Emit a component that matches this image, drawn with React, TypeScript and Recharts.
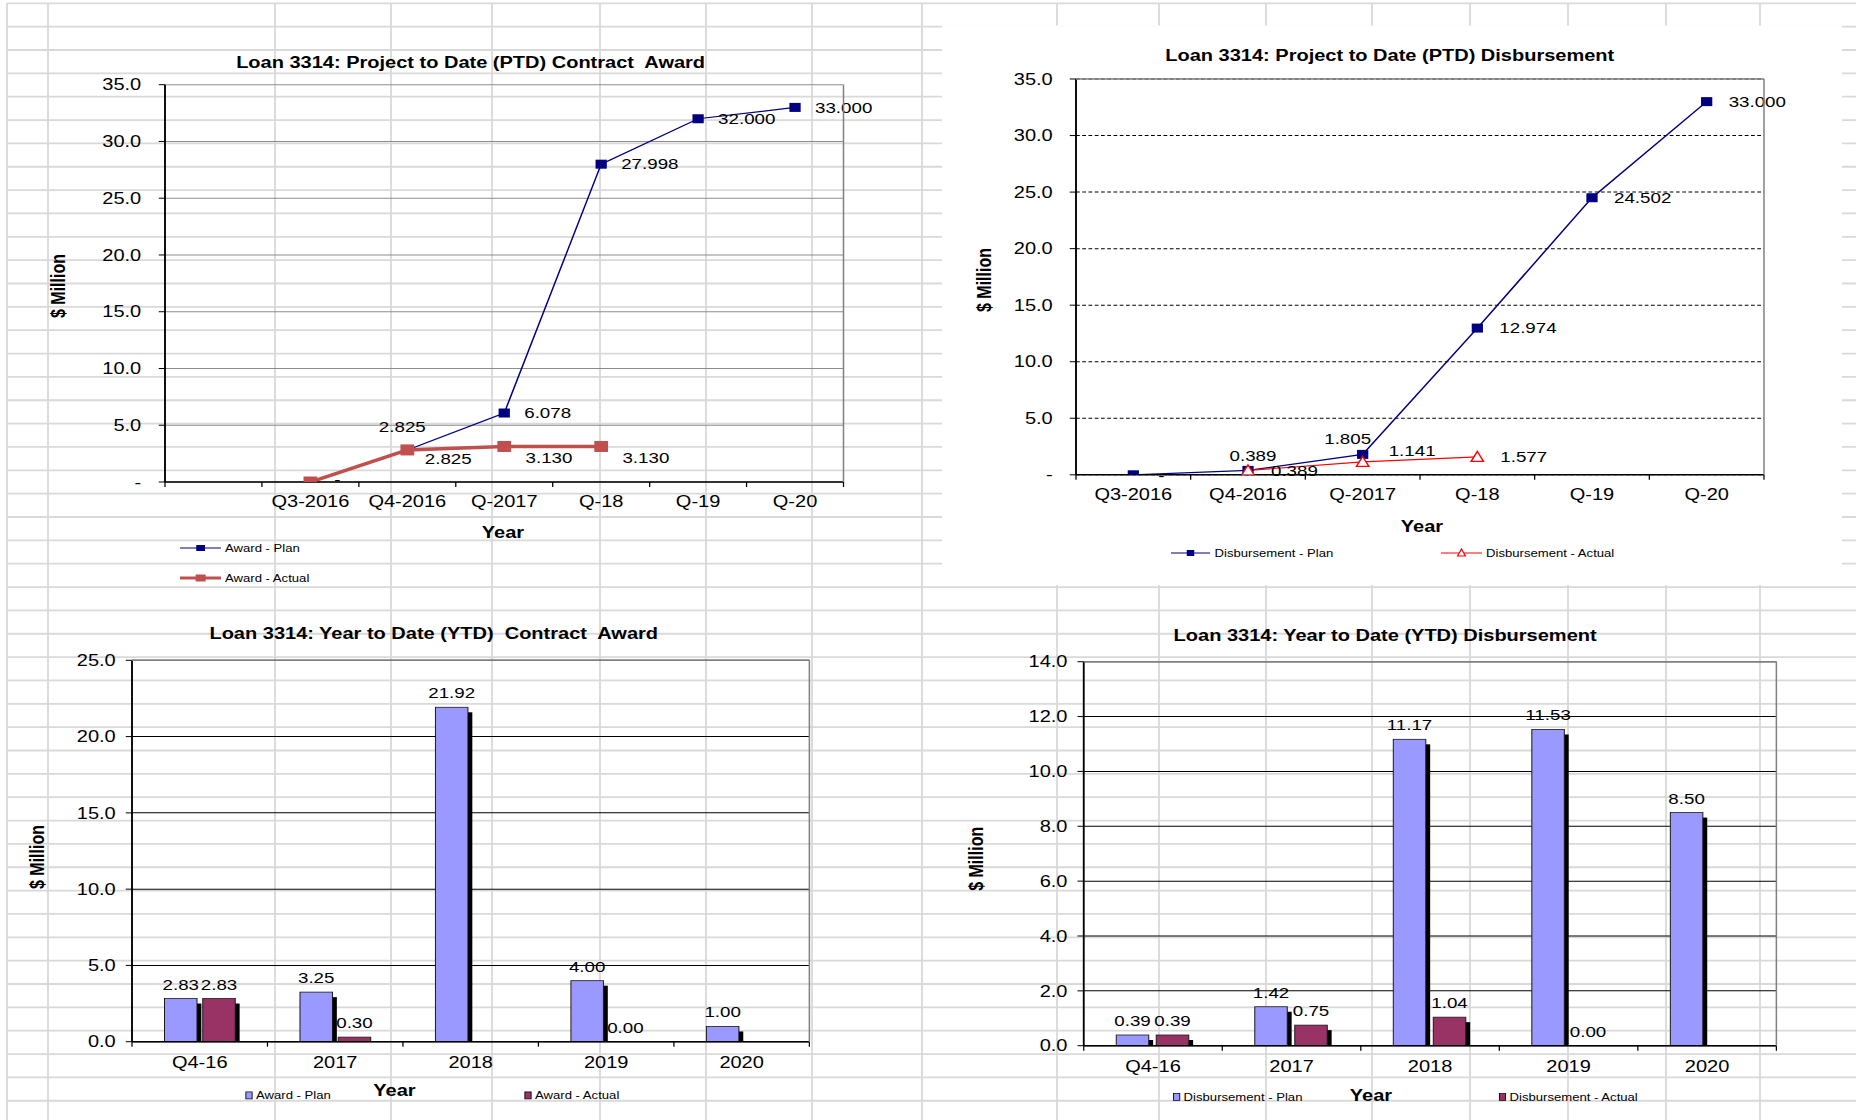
import React from "react";
import {
  LineChart,
  Line,
  BarChart,
  Bar,
  XAxis,
  YAxis,
  CartesianGrid,
  LabelList,
} from "recharts";

// ---- data ----
const ptdAwardCats = ["", "Q3-2016", "Q4-2016", "Q-2017", "Q-18", "Q-19", "Q-20"];
const ptdAwardPlan = [null, null, 2.825, 6.078, 27.998, 32.0, 33.0];
const ptdAwardActual = [null, 0, 2.825, 3.13, 3.13, null, null];

const ptdDisbCats = ["Q3-2016", "Q4-2016", "Q-2017", "Q-18", "Q-19", "Q-20"];
const ptdDisbPlan = [0, 0.389, 1.805, 12.974, 24.502, 33.0];
const ptdDisbActual = [null, 0.389, 1.141, 1.577, null, null];

const ytdCats = ["Q4-16", "2017", "2018", "2019", "2020"];
const ytdAwardPlan = [2.83, 3.25, 21.92, 4.0, 1.0];
const ytdAwardActual = [2.83, 0.3, null, 0.0, null];
const ytdDisbPlan = [0.39, 1.42, 11.17, 11.53, 8.5];
const ytdDisbActual = [0.39, 0.75, 1.04, 0.0, null];

const ptdTicks = [0, 5, 10, 15, 20, 25, 30, 35];
const ytdAwardTicks = [0, 5, 10, 15, 20, 25];
const ytdDisbTicks = [0, 2, 4, 6, 8, 10, 12, 14];

// ---- look ----
const SX = 1.25; // the source picture is stretched sideways
const FONT = '"Liberation Sans", Arial, Helvetica, sans-serif';
const NAVY = "#000080";
const BRICK = "#C0504D";
const LILAC = "#9999FF";
const PLUM = "#993366";
const BORDER = "#808080";
const Y_W = 60;
const X_H = 30;

const sheetCols = [7, 48, 275, 391, 492, 600, 706, 812, 922, 1057, 1159, 1266, 1372, 1470, 1568, 1666, 1760];

type Frame = {
  left: number;
  top: number;
  w: number;
  h: number;
  plotL: number;
  plotR: number;
  plotT: number;
  plotB: number;
};

// box position on page, plot edges in box coords (before stretch)
const F1: Frame = { left: 0, top: 0, w: 744, h: 590, plotL: 132, plotR: 674.8, plotT: 84.7, plotB: 482 };
const F2: Frame = { left: 940, top: 0, w: 732.8, h: 590, plotL: 108.8, plotR: 659.2, plotT: 79, plotB: 474.8 };
const F3: Frame = { left: 0, top: 590, w: 744, h: 530, plotL: 105.6, plotR: 647.5, plotT: 70.3, plotB: 451.7 };
const F4: Frame = { left: 940, top: 590, w: 732.8, h: 530, plotL: 115, plotR: 669.1, plotT: 71.7, plotB: 455.7 };

const marginOf = (f: Frame) => ({
  top: f.plotT,
  left: f.plotL - Y_W,
  right: f.w - f.plotR,
  bottom: f.h - f.plotB - X_H,
});

const dashZero = (v: number) => (v === 0 ? "-" : v.toFixed(1));
const oneDec = (v: number) => v.toFixed(1);

const makeXTick = (band: number, count: number, drop: number) => (props: any) => {
  const { x, y, payload, index } = props;
  const axisY = y - drop;
  const half = band / 2;
  return (
    <g>
      <line x1={x - half} x2={x - half} y1={axisY} y2={axisY + 5} stroke="#000" strokeWidth={1} />
      {index === count - 1 && (
        <line x1={x + half} x2={x + half} y1={axisY} y2={axisY + 5} stroke="#000" strokeWidth={1} />
      )}
      <text x={x} y={y} dy="0.71em" textAnchor="middle" fontSize={16} fill="#000">
        {payload.value}
      </text>
    </g>
  );
};

type Place = { dx: number; dy: number; anchor?: "start" | "middle" | "end" };

const lineLabel = (values: (number | null)[], base: Place, special: Record<number, Place>) => (props: any) => {
  const { x, y, value } = props;
  if (value == null || x == null || y == null) return null;
  const i = typeof props.index === "number" ? props.index : values.indexOf(value);
  const p = special[i] ?? base;
  return (
    <text x={x + p.dx} y={y + p.dy} dy="0.35em" textAnchor={p.anchor ?? "start"} fontSize={15} fill="#000">
      {value === 0 ? "-" : Number(value).toFixed(3)}
    </text>
  );
};

const squareDot = (color: string, size: number) => (props: any) => {
  const { cx, cy, index, value } = props;
  if (cx == null || cy == null || value == null) return <g key={`sq-${index}`} />;
  return <rect key={`sq-${index}`} x={cx - size / 2} y={cy - size / 2} width={size} height={size} fill={color} />;
};

const triangleDot = (props: any) => {
  const { cx, cy, index, value } = props;
  if (cx == null || cy == null || value == null) return <g key={`tr-${index}`} />;
  return (
    <path
      key={`tr-${index}`}
      d={`M${cx},${cy - 5.5} L${cx + 5},${cy + 4.5} L${cx - 5},${cy + 4.5} Z`}
      fill="#fff"
      stroke="#FF0000"
      strokeWidth={1.2}
    />
  );
};

const shadowBar = (props: any) => {
  const { x, y, width, height, fill } = props;
  if (!height || height < 0.5) return <g />;
  const dx = 3.5;
  const dy = 5;
  return (
    <g>
      <rect x={x + dx} y={y + dy} width={width} height={Math.max(0, height - dy)} fill="#000" />
      <rect x={x} y={y} width={width} height={height} fill={fill} stroke="#1a1a1a" strokeWidth={0.8} />
    </g>
  );
};

const barLabel = (props: any) => {
  const { x, y, width, value } = props;
  if (value == null) return null;
  return (
    <text x={x + width / 2} y={y - 9} textAnchor="middle" fontSize={15} fill="#000">
      {Number(value).toFixed(2)}
    </text>
  );
};

const Box = ({ f, children }: { f: Frame; children: React.ReactNode }) => (
  <div
    style={{
      position: "absolute",
      left: f.left,
      top: f.top,
      width: f.w,
      height: f.h,
      transform: `scaleX(${SX})`,
      transformOrigin: "0 0",
    }}
  >
    {children}
  </div>
);

const Overlay = ({
  f,
  title,
  titleAt,
  yearAt,
  yLabelAt,
  topBorder,
  children,
}: {
  f: Frame;
  title: string;
  titleAt: [number, number];
  yearAt: [number, number];
  yLabelAt: [number, number];
  topBorder: boolean;
  children?: React.ReactNode;
}) => (
  <svg
    width={f.w}
    height={f.h}
    style={{ position: "absolute", left: 0, top: 0, overflow: "visible", pointerEvents: "none" }}
  >
    <text
      x={titleAt[0]}
      y={titleAt[1]}
      dy="0.35em"
      textAnchor="middle"
      fontSize={16}
      fontWeight={700}
      fill="#000"
      style={{ whiteSpace: "pre" }}
    >
      {title}
    </text>
    <text x={yearAt[0]} y={yearAt[1]} dy="0.35em" textAnchor="middle" fontSize={16} fontWeight={700} fill="#000">
      Year
    </text>
    <text
      x={yLabelAt[0]}
      y={yLabelAt[1]}
      dy="0.35em"
      textAnchor="middle"
      fontSize={16}
      fontWeight={700}
      fill="#000"
      transform={`rotate(-90 ${yLabelAt[0]} ${yLabelAt[1]})`}
    >
      $ Million
    </text>
    {topBorder && (
      <line x1={f.plotL} x2={f.plotR} y1={f.plotT} y2={f.plotT} stroke={BORDER} strokeWidth={1.5} />
    )}
    <line x1={f.plotR} x2={f.plotR} y1={f.plotT} y2={f.plotB} stroke={BORDER} strokeWidth={1.2} />
    {children}
  </svg>
);

function SheetGrid() {
  const rows = Array.from({ length: 48 }, (_, k) => 3.3 + 23.35 * k);
  return (
    <svg width={1856} height={1120} style={{ position: "absolute", left: 0, top: 0 }}>
      {rows.map((y) => (
        <line key={`r${y}`} x1={7} x2={1856} y1={y} y2={y} stroke="#d9d9d9" strokeWidth={1.8} />
      ))}
      {sheetCols.map((x) => (
        <line key={`c${x}`} x1={x} x2={x} y1={3.3} y2={1120} stroke="#d9d9d9" strokeWidth={1.8} />
      ))}
      <rect x={942} y={25.5} width={900} height={559.5} fill="#fff" />
    </svg>
  );
}

function PtdAward() {
  const f = F1;
  const band = (f.plotR - f.plotL) / ptdAwardCats.length;
  const data = ptdAwardCats.map((cat, i) => ({ cat, plan: ptdAwardPlan[i], actual: ptdAwardActual[i] }));
  return (
    <Box f={f}>
      <LineChart width={f.w} height={f.h} data={data} margin={marginOf(f)}>
        <CartesianGrid vertical={false} stroke="#8c8c8c" strokeWidth={1} />
        <XAxis
          dataKey="cat"
          interval={0}
          height={X_H}
          padding={{ left: band / 2, right: band / 2 }}
          tickLine={false}
          tickSize={6}
          tickMargin={8}
          axisLine={{ stroke: "#000", strokeWidth: 1.5 }}
          tick={makeXTick(band, ptdAwardCats.length, 14)}
        />
        <YAxis
          width={Y_W}
          domain={[0, 35]}
          ticks={ptdTicks}
          interval={0}
          allowDataOverflow
          tickSize={5}
          tickMargin={14}
          tickFormatter={dashZero}
          axisLine={{ stroke: "#000", strokeWidth: 1.5 }}
          tickLine={{ stroke: "#000" }}
          tick={{ fontSize: 16, fill: "#000" }}
        />
        <Line
          dataKey="plan"
          stroke={NAVY}
          strokeWidth={1.2}
          dot={squareDot(NAVY, 9)}
          activeDot={false}
          isAnimationActive={false}
        >
          <LabelList
            dataKey="plan"
            content={lineLabel(ptdAwardPlan, { dx: 16, dy: 0 }, { 2: { dx: -4, dy: -23, anchor: "middle" } })}
          />
        </Line>
        <Line
          dataKey="actual"
          stroke={BRICK}
          strokeWidth={3.5}
          dot={squareDot(BRICK, 11)}
          activeDot={false}
          isAnimationActive={false}
        >
          <LabelList
            dataKey="actual"
            content={lineLabel(ptdAwardActual, { dx: 17, dy: 11 }, { 1: { dx: 19, dy: -2 }, 2: { dx: 14, dy: 9 } })}
          />
        </Line>
      </LineChart>
      <Overlay
        f={f}
        title="Loan 3314: Project to Date (PTD) Contract  Award"
        titleAt={[376.5, 62]}
        yearAt={[402.4, 532.5]}
        yLabelAt={[46.4, 286]}
        topBorder={false}
      >
        <line x1={144} x2={176.8} y1={548} y2={548} stroke={NAVY} strokeWidth={1.2} />
        <rect x={157} y={545} width={7} height={6} fill={NAVY} />
        <text x={180} y={548} dy="0.35em" fontSize={10.5} fill="#000">
          Award - Plan
        </text>
        <line x1={144} x2={176.8} y1={578} y2={578} stroke={BRICK} strokeWidth={3} />
        <rect x={156.5} y={574.5} width={8} height={7} fill={BRICK} />
        <text x={180} y={578} dy="0.35em" fontSize={10.5} fill="#000">
          Award - Actual
        </text>
      </Overlay>
    </Box>
  );
}

function PtdDisbursement() {
  const f = F2;
  const band = (f.plotR - f.plotL) / ptdDisbCats.length;
  const data = ptdDisbCats.map((cat, i) => ({ cat, plan: ptdDisbPlan[i], actual: ptdDisbActual[i] }));
  return (
    <Box f={f}>
      <LineChart width={f.w} height={f.h} data={data} margin={marginOf(f)}>
        <CartesianGrid vertical={false} stroke="#000" strokeDasharray="3 2" strokeWidth={1} />
        <XAxis
          dataKey="cat"
          interval={0}
          height={X_H}
          padding={{ left: band / 2, right: band / 2 }}
          tickLine={false}
          tickSize={6}
          tickMargin={8}
          axisLine={{ stroke: "#000", strokeWidth: 1.5 }}
          tick={makeXTick(band, ptdDisbCats.length, 14)}
        />
        <YAxis
          width={Y_W}
          domain={[0, 35]}
          ticks={ptdTicks}
          interval={0}
          allowDataOverflow
          tickSize={5}
          tickMargin={13.6}
          tickFormatter={dashZero}
          axisLine={{ stroke: "#000", strokeWidth: 1.5 }}
          tickLine={{ stroke: "#000" }}
          tick={{ fontSize: 16, fill: "#000" }}
        />
        <Line
          dataKey="plan"
          stroke={NAVY}
          strokeWidth={1.3}
          dot={squareDot(NAVY, 9)}
          activeDot={false}
          isAnimationActive={false}
        >
          <LabelList
            dataKey="plan"
            content={lineLabel(
              ptdDisbPlan,
              { dx: 17.6, dy: 0 },
              {
                0: { dx: 20, dy: 1 },
                1: { dx: 4, dy: -15, anchor: "middle" },
                2: { dx: -12, dy: -16, anchor: "middle" },
              }
            )}
          />
        </Line>
        <Line
          dataKey="actual"
          stroke="#FF0000"
          strokeWidth={1.2}
          dot={triangleDot}
          activeDot={false}
          isAnimationActive={false}
        >
          <LabelList
            dataKey="actual"
            content={lineLabel(ptdDisbActual, { dx: 18.4, dy: 0 }, { 2: { dx: 20.8, dy: -11 } })}
          />
        </Line>
      </LineChart>
      <Overlay
        f={f}
        title="Loan 3314: Project to Date (PTD) Disbursement"
        titleAt={[359.8, 55.7]}
        yearAt={[385.6, 526.5]}
        yLabelAt={[35.2, 280]}
        topBorder
      >
        <line x1={184.8} x2={216} y1={553} y2={553} stroke={NAVY} strokeWidth={1.2} />
        <rect x={197.4} y={550} width={6} height={6} fill={NAVY} />
        <text x={219.6} y={553} dy="0.35em" fontSize={10.5} fill="#000">
          Disbursement - Plan
        </text>
        <line x1={400.8} x2={433.6} y1={553} y2={553} stroke="#FF0000" strokeWidth={1.2} />
        <path d="M417.2,549 L420.4,556 L414,556 Z" fill="#fff" stroke="#FF0000" strokeWidth={1} />
        <text x={436.8} y={553} dy="0.35em" fontSize={10.5} fill="#000">
          Disbursement - Actual
        </text>
      </Overlay>
    </Box>
  );
}

function YtdChart({
  f,
  plan,
  actual,
  domainMax,
  ticks,
  gap,
  title,
  titleAt,
  yearAt,
  yLabelAt,
  planName,
  actualName,
  legendY,
  legendX,
}: {
  f: Frame;
  plan: (number | null)[];
  actual: (number | null)[];
  domainMax: number;
  ticks: number[];
  gap: number;
  title: string;
  titleAt: [number, number];
  yearAt: [number, number];
  yLabelAt: [number, number];
  planName: string;
  actualName: string;
  legendY: number;
  legendX: [number, number];
}) {
  const band = (f.plotR - f.plotL) / ytdCats.length;
  const data = ytdCats.map((cat, i) => ({ cat, plan: plan[i], actual: actual[i] }));
  return (
    <Box f={f}>
      <BarChart width={f.w} height={f.h} data={data} margin={marginOf(f)} barSize={26} barGap={gap}>
        <CartesianGrid vertical={false} stroke="#000" strokeWidth={1} />
        <XAxis
          dataKey="cat"
          interval={0}
          height={X_H}
          tickLine={false}
          tickSize={6}
          tickMargin={8.5}
          axisLine={{ stroke: "#000", strokeWidth: 1.5 }}
          tick={makeXTick(band, ytdCats.length, 14.5)}
        />
        <YAxis
          width={Y_W}
          domain={[0, domainMax]}
          ticks={ticks}
          interval={0}
          allowDataOverflow
          tickSize={5}
          tickMargin={8}
          tickFormatter={oneDec}
          axisLine={{ stroke: "#000", strokeWidth: 1.5 }}
          tickLine={{ stroke: "#000" }}
          tick={{ fontSize: 16, fill: "#000" }}
        />
        <Bar dataKey="plan" fill={LILAC} shape={shadowBar} isAnimationActive={false}>
          <LabelList dataKey="plan" content={barLabel} />
        </Bar>
        <Bar dataKey="actual" fill={PLUM} shape={shadowBar} isAnimationActive={false}>
          <LabelList dataKey="actual" content={barLabel} />
        </Bar>
      </BarChart>
      <Overlay f={f} title={title} titleAt={titleAt} yearAt={yearAt} yLabelAt={yLabelAt} topBorder>
        <rect x={legendX[0] - 2.5} y={legendY - 3.5} width={5} height={7} fill={LILAC} stroke="#000" strokeWidth={0.7} />
        <text x={legendX[0] + 5.6} y={legendY} dy="0.35em" fontSize={10.5} fill="#000">
          {planName}
        </text>
        <rect x={legendX[1] - 2.5} y={legendY - 3.5} width={5} height={7} fill={PLUM} stroke="#000" strokeWidth={0.7} />
        <text x={legendX[1] + 5.6} y={legendY} dy="0.35em" fontSize={10.5} fill="#000">
          {actualName}
        </text>
      </Overlay>
    </Box>
  );
}

export default function App() {
  return (
    <div
      style={{
        position: "absolute",
        left: 0,
        top: 0,
        width: 1856,
        height: 1120,
        overflow: "hidden",
        background: "#fff",
        fontFamily: FONT,
      }}
    >
      <SheetGrid />
      <PtdAward />
      <PtdDisbursement />
      <YtdChart
        f={F3}
        plan={ytdAwardPlan}
        actual={ytdAwardActual}
        domainMax={25}
        ticks={ytdAwardTicks}
        gap={4.6}
        title="Loan 3314: Year to Date (YTD)  Contract  Award"
        titleAt={[347, 43.3]}
        yearAt={[315.6, 500.5]}
        yLabelAt={[29.6, 267]}
        planName="Award - Plan"
        actualName="Award - Actual"
        legendY={505.4}
        legendX={[199.2, 422.4]}
      />
      <YtdChart
        f={F4}
        plan={ytdDisbPlan}
        actual={ytdDisbActual}
        domainMax={14}
        ticks={ytdDisbTicks}
        gap={6}
        title="Loan 3314: Year to Date (YTD) Disbursement"
        titleAt={[356.1, 45.6]}
        yearAt={[344.8, 505.6]}
        yLabelAt={[28.8, 268.8]}
        planName="Disbursement - Plan"
        actualName="Disbursement - Actual"
        legendY={507}
        legendX={[189.3, 450]}
      />
    </div>
  );
}
